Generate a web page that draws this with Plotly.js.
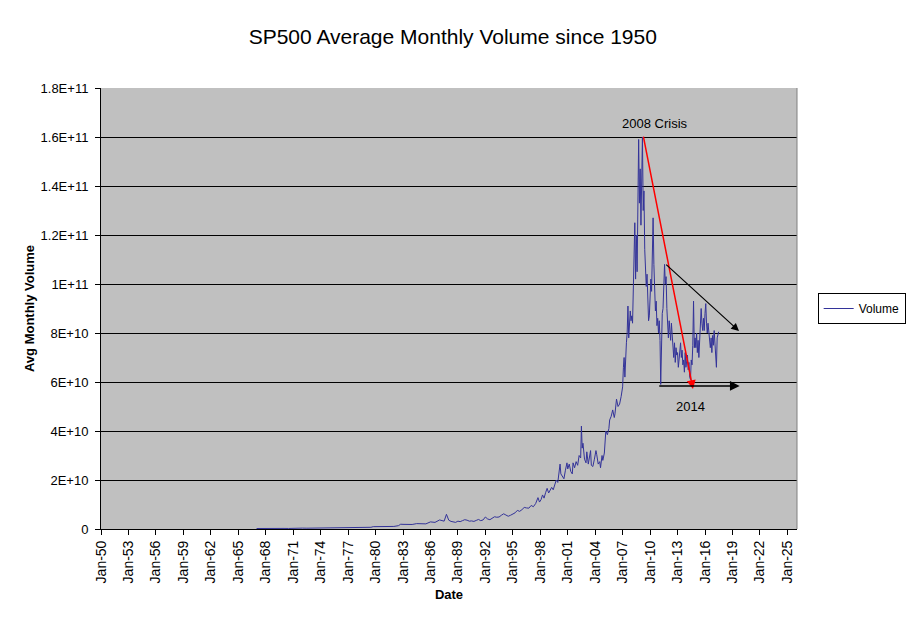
<!DOCTYPE html>
<html>
<head>
<meta charset="utf-8">
<script src="https://cdn.plot.ly/plotly-3.0.1.min.js"></script>
<style>html,body{margin:0;padding:0;background:#fff;}#chart{width:911px;height:623px;}</style>
</head>
<body>
<div id="chart"></div>
<script>
// ---- Data (volume in billions of shares) ----
const earlyMonths = ['1967-01','1967-07','1968-01','1968-07','1969-01','1969-07','1970-01','1970-07','1971-01','1971-07','1972-01','1972-07','1973-01','1973-07','1974-01','1974-07','1975-01','1975-07','1976-01','1976-07','1977-01','1977-07','1978-01','1978-07','1979-01','1979-07','1979-10','1980-01','1980-07','1981-01','1981-07','1982-01','1982-07','1982-10','1983-01','1983-07','1984-01','1984-07','1985-01','1985-07','1986-01','1986-07','1987-01','1987-04','1987-07','1987-10','1988-01','1988-04','1988-07','1988-10','1989-01','1989-04','1989-07','1989-10','1990-01','1990-04','1990-07','1990-10','1991-01','1991-04','1991-07','1991-10','1992-01','1992-04','1992-07','1992-10','1993-01','1993-04','1993-07','1993-10','1994-01','1994-04','1994-07','1994-10','1995-01','1995-04','1995-07','1995-10','1996-01','1996-04','1996-07','1996-10','1997-01','1997-04','1997-07','1997-10','1997-12','1998-02','1998-04','1998-06','1998-08','1998-10','1998-12','1999-02','1999-04','1999-06','1999-08','1999-10','1999-12','2000-01','2000-03','2000-04','2000-06','2000-08','2000-10','2000-12','2001-01','2001-03','2001-05','2001-07','2001-08','2001-10','2001-12','2002-02','2002-04','2002-06','2002-07','2002-08','2002-09','2002-11','2003-01','2003-02','2003-04','2003-05','2003-07','2003-08','2003-10','2003-12','2004-02','2004-03','2004-05','2004-07','2004-08','2004-10','2004-11','2005-01','2005-03','2005-05','2005-07','2005-08','2005-10','2005-12','2006-02','2006-03','2006-05','2006-07','2006-09','2006-11'];
const earlyVolume = [0.20,0.25,0.30,0.28,0.27,0.24,0.24,0.22,0.33,0.30,0.36,0.33,0.35,0.30,0.32,0.28,0.42,0.40,0.55,0.45,0.45,0.42,0.45,0.65,0.62,0.70,0.95,0.95,1.10,1.15,0.95,1.05,1.35,1.95,1.90,1.85,1.85,2.20,2.30,2.10,2.90,2.70,3.70,3.40,3.20,6.00,3.60,3.10,2.80,2.70,3.20,3.00,3.40,3.80,3.60,3.20,3.30,3.10,3.50,3.90,3.40,3.70,4.90,4.10,3.80,4.30,5.00,4.80,4.90,5.60,6.20,5.70,5.20,5.60,6.10,6.60,7.60,7.20,7.90,8.80,8.60,8.50,9.60,9.10,10.4,12.8,11.0,12.0,13.9,12.6,14.8,16.6,14.7,15.9,17.0,16.0,18.0,20.0,19.0,22.0,26.5,22.5,21.3,20.5,24.0,27.0,24.5,26.5,23.5,22.5,27.0,25.0,27.5,26.0,30.0,29.0,42.0,33.0,35.0,28.5,27.0,31.5,26.5,29.0,32.0,26.0,25.5,28.5,32.0,30.5,26.5,27.5,25.0,30.0,28.0,31.0,40.0,38.5,41.0,44.5,46.0,48.6,45.5,47.0,53.0,50.0,51.0,54.0];

// Monthly values Jan 2007 .. Jul 2017
const recentFirstMonth = '2007-01';
const recentVolume = [
  58,66,70,62,72,76,80,91,78,83,89,85,        // 2007
  87,84,98,112,125,102,120,105,126,159,133,147, // 2008
  124,140,160,130,138,114,108,99,104,90,85,87,  // 2009
  95,102,97,110,127,108,99,89,93,83,86,80,      // 2010
  85,77,59,82,88,90,96,108,100,103,90,80,       // 2011
  78,85,81,77,84,80,73,70,76,68,74,71,          // 2012
  72,66,69,74,76,70,73,67,69,64,72,66,          // 2013
  68,71,65,68,62,61,69,67,75,93,74,78,          // 2014
  74,80,72,77,70,79,85,90,84,81,86,81,          // 2015
  88,92,84,80,84,81,77,74,78,72,79,75,          // 2016
  81,76,69,66,78,80,80.5                        // 2017
];

const seriesName = 'Volume';
const yTickVals = [0, 2e10, 4e10, 6e10, 8e10, 1e11, 1.2e11, 1.4e11, 1.6e11, 1.8e11];
const yTickText = ['0','2E+10','4E+10','6E+10','8E+10','1E+11','1.2E+11','1.4E+11','1.6E+11','1.8E+11'];

// ---- Build series ----
function monthSeq(start, n) {
  const [y0, m0] = start.split('-').map(Number);
  const out = [];
  for (let i = 0; i < n; i++) {
    const t = (m0 - 1) + i;
    const y = y0 + Math.floor(t / 12);
    const m = (t % 12) + 1;
    out.push(y + '-' + String(m).padStart(2, '0'));
  }
  return out;
}
const recentMonths = monthSeq(recentFirstMonth, recentVolume.length);
const xs = earlyMonths.concat(recentMonths).map(s => s + '-01');
const ys = earlyVolume.concat(recentVolume).map(v => v * 1e9);

const FONT = 'Liberation Sans, Arial, sans-serif';

const trace = {
  x: xs, y: ys, type: 'scatter', mode: 'lines', name: seriesName,
  line: {color: '#333399', width: 1},
  showlegend: true
};

const layout = {
  width: 911, height: 623,
  margin: {l: 101, r: 114, t: 88, b: 94, pad: 0, autoexpand: false},
  paper_bgcolor: '#ffffff',
  plot_bgcolor: '#c0c0c0',
  font: {family: FONT, size: 13, color: '#000'},
  title: {
    text: 'SP500 Average Monthly Volume since 1950',
    font: {family: FONT, size: 21, color: '#000'},
    xref: 'container', x: 0.497, xanchor: 'center',
    yref: 'container', y: 0.941, yanchor: 'middle'
  },
  xaxis: {
    type: 'date',
    range: ['1950-01-01', '2026-01-20'],
    tick0: '1950-01-01', dtick: 'M36',
    tickformat: '%b-%y',
    tickangle: -90,
    ticks: 'outside', ticklen: 5, tickcolor: '#000', tickwidth: 1,
    showline: true, linecolor: '#000', linewidth: 1,
    showgrid: false, zeroline: false,
    tickfont: {family: FONT, size: 14, color: '#000'},
    title: {text: 'Date', font: {family: FONT, size: 13, color: '#000', weight: 'bold'}, standoff: 7},
    automargin: false, fixedrange: true
  },
  yaxis: {
    range: [0, 1.8e11],
    tickmode: 'array', tickvals: yTickVals, ticktext: yTickText,
    ticks: 'outside', ticklen: 5, tickcolor: '#000', tickwidth: 1,
    ticklabelstandoff: 4,
    showline: true, linecolor: '#000', linewidth: 1,
    showgrid: true, gridcolor: '#000', gridwidth: 1,
    zeroline: false,
    tickfont: {family: FONT, size: 13, color: '#000'},
    title: {text: 'Avg Monthly Volume', font: {family: FONT, size: 13, color: '#000', weight: 'bold'}, standoff: 3},
    automargin: false, fixedrange: true
  },
  legend: {
    x: 1.0297, xanchor: 'left', y: 0.5, yanchor: 'middle',
    bordercolor: '#000', borderwidth: 1, bgcolor: '#fff',
    font: {family: FONT, size: 12, color: '#000'},
    itemwidth: 30, tracegroupgap: 0
  },
  shapes: [
    {type: 'line', xref: 'paper', yref: 'paper', x0: 1, x1: 1, y0: 0, y1: 1,
     line: {color: '#808080', width: 1}, layer: 'above'}
  ],
  annotations: [
    {xref: 'x', yref: 'y', x: '2010-07-05', y: 1.656e11, text: '2008 Crisis', showarrow: false,
     font: {family: FONT, size: 13, color: '#000'}},
    {xref: 'x', yref: 'y', x: '2014-05-15', y: 4.99e10, text: '2014', showarrow: false,
     font: {family: FONT, size: 13, color: '#000'}},
    {xref: 'x', yref: 'y', axref: 'x', ayref: 'y',
     x: '2014-09-09', y: 5.71e10, ax: '2009-03-28', ay: 1.608e11,
     text: '', showarrow: true, arrowhead: 2, arrowsize: 1.2, arrowwidth: 1.5, arrowcolor: '#ff0000',
     standoff: 0, startstandoff: 0},
    {xref: 'x', yref: 'y', axref: 'x', ayref: 'y',
     x: '2019-09-20', y: 8.08e10, ax: '2011-08-07', ay: 1.0845e11,
     text: '', showarrow: true, arrowhead: 2, arrowsize: 1.3, arrowwidth: 1.2, arrowcolor: '#000000',
     standoff: 0, startstandoff: 0},
    {xref: 'x', yref: 'y', axref: 'x', ayref: 'y',
     x: '2019-10-16', y: 5.84e10, ax: '2010-11-03', ay: 5.84e10,
     text: '', showarrow: true, arrowhead: 2, arrowsize: 1.3, arrowwidth: 1.5, arrowcolor: '#000000',
     standoff: 0, startstandoff: 0}
  ]
};

Plotly.newPlot('chart', [trace], layout, {displayModeBar: false, staticPlot: true});
</script>
</body>
</html>
